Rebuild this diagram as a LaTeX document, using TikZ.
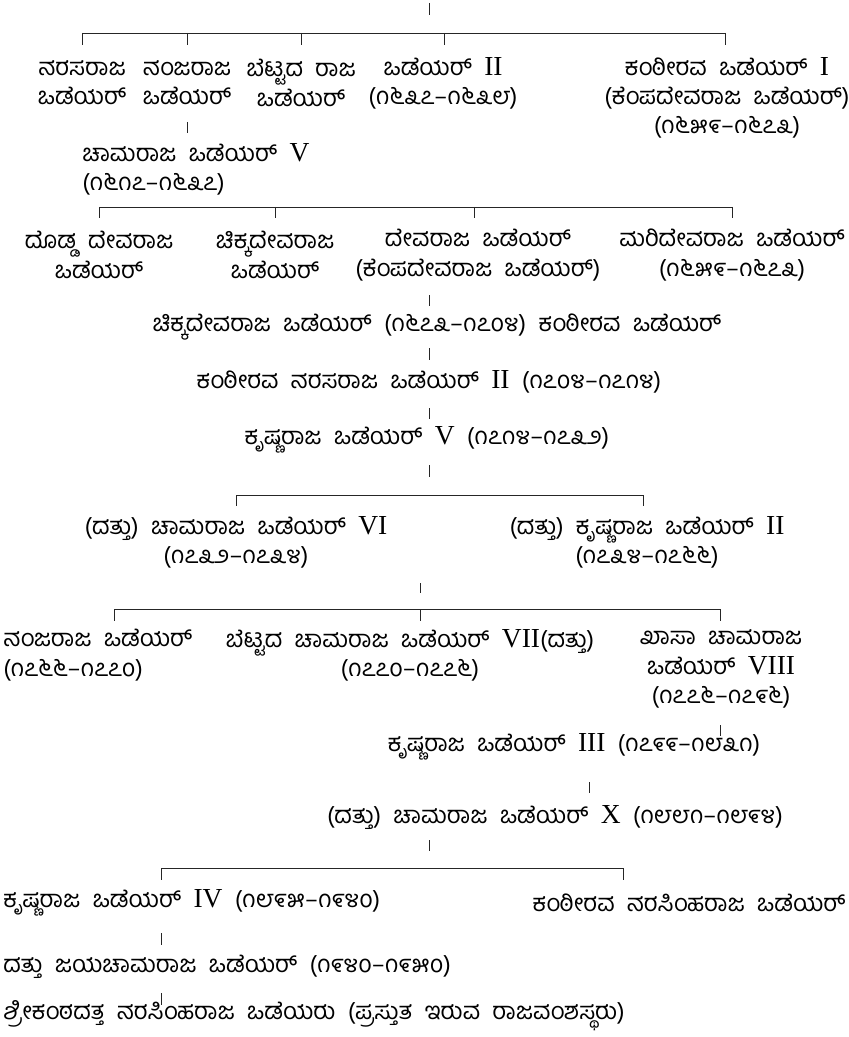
\documentclass[tikz,border=0pt]{standalone}
\usepackage{fontspec}
\setmainfont{Liberation Serif}[Scale=1.15]
\newfontfamily\kn[Script=Kannada,WordSpace=2.1]{Hind Mysuru}
\newcommand{\rn}[1]{{\rmfamily #1}}

\tikzset{
  kname/.style={font=\fontsize{17}{20.8}\selectfont\kn, align=center, inner sep=0pt},
  rule/.style={line width=0.6pt, black!85}
}

\begin{document}
\begin{tikzpicture}[x=0.025cm,y=-0.025cm]
\useasboundingbox (0,0) rectangle (848,1037);

% first generation
\node[kname] (narasa) at (82,83) {ನರಸರಾಜ\\ಒಡೆಯರ್};
\node[kname] (nanja1) at (187,83) {ನಂಜರಾಜ\\ಒಡೆಯರ್};
\node[kname] (bettada1) at (301,83) {ಬೆಟ್ಟದ ರಾಜ\\ಒಡೆಯರ್};
\node[kname] (raja2) at (443,83) {ಒಡೆಯರ್ \rn{II}\\(೧೬೩೭–೧೬೩೮)};
\node[kname] (kanth1) at (727,98) {ಕಂಠೀರವ ಒಡೆಯರ್ \rn{I}\\(ಕೆಂಪದೇವರಾಜ ಒಡೆಯರ್)\\(೧೬೫೯–೧೬೭೩)};
\node[kname, anchor=west, align=left] (chama5) at (82,169) {ಚಾಮರಾಜ ಒಡೆಯರ್ \rn{V}\\(೧೬೧೭–೧೬೩೭)};

% second generation
\node[kname] (dodda) at (99,255) {ದೊಡ್ಡ ದೇವರಾಜ\\ಒಡೆಯರ್};
\node[kname] (chikka1) at (275,255) {ಚಿಕ್ಕದೇವರಾಜ\\ಒಡೆಯರ್};
\node[kname] (deva) at (478,255) {ದೇವರಾಜ ಒಡೆಯರ್\\(ಕೆಂಪದೇವರಾಜ ಒಡೆಯರ್)};
\node[kname] (mari) at (732,255) {ಮರಿದೇವರಾಜ ಒಡೆಯರ್\\(೧೬೫೯–೧೬೭೩)};

\node[kname] (chikka2) at (437,327) {ಚಿಕ್ಕದೇವರಾಜ ಒಡೆಯರ್ (೧೬೭೩–೧೭೦೪) ಕಂಠೀರವ ಒಡೆಯರ್};
\node[kname] (kanth2) at (429,382) {ಕಂಠೀರವ ನರಸರಾಜ ಒಡೆಯರ್ \rn{II} (೧೭೦೪–೧೭೧೪)};
\node[kname] (krishna5) at (427,440) {ಕೃಷ್ಣರಾಜ ಒಡೆಯರ್ \rn{V} (೧೭೧೪–೧೭೩೨)};

\node[kname] (chama6) at (236,542) {(ದತ್ತು) ಚಾಮರಾಜ ಒಡೆಯರ್ \rn{VI}\\(೧೭೩೨–೧೭೩೪)};
\node[kname] (krishna2) at (647,542) {(ದತ್ತು) ಕೃಷ್ಣರಾಜ ಒಡೆಯರ್ \rn{II}\\(೧೭೩೪–೧೭೬೬)};

\node[kname, anchor=west, align=left] (nanja2) at (3,655) {ನಂಜರಾಜ ಒಡೆಯರ್\\(೧೭೬೬–೧೭೭೦)};
\node[kname] (bettada2) at (410,655) {ಬೆಟ್ಟದ ಚಾಮರಾಜ ಒಡೆಯರ್ \rn{VII}(ದತ್ತು)\\(೧೭೭೦–೧೭೭೬)};
\node[kname] (khasa) at (721,669) {ಖಾಸಾ ಚಾಮರಾಜ\\ಒಡೆಯರ್ \rn{VIII}\\(೧೭೭೬–೧೭೯೬)};

\node[kname] (krishna3) at (574,747) {ಕೃಷ್ಣರಾಜ ಒಡೆಯರ್ \rn{III} (೧೭೯೯–೧೮೩೧)};
\node[kname] (chama10) at (555,818) {(ದತ್ತು) ಚಾಮರಾಜ ಒಡೆಯರ್ \rn{X} (೧೮೮೧–೧೮೯೪)};

\node[kname, anchor=west] (krishna4) at (3,903) {ಕೃಷ್ಣರಾಜ ಒಡೆಯರ್ \rn{IV} (೧೮೯೫–೧೯೪೦)};
\node[kname, anchor=east] (kanth3) at (846,903) {ಕಂಠೀರವ ನರಸಿಂಹರಾಜ ಒಡೆಯರ್};
\node[kname, anchor=west] (jaya) at (3,967) {ದತ್ತು ಜಯಚಾಮರಾಜ ಒಡೆಯರ್ (೧೯೪೦–೧೯೫೦)};
\node[kname, anchor=west] (srikanta) at (3,1016) {ಶ್ರೀಕಂಠದತ್ತ ನರಸಿಂಹರಾಜ ಒಡೆಯರು (ಪ್ರಸ್ತುತ ಇರುವ ರಾಜವಂಶಸ್ಥರು)};

% single descent ticks
\foreach \x/\ya/\yb [count=\i] in {429/3/15, 187/122/133, 429/295/306, 429/348/360,
    429/408/419, 429/465/477, 420/583/593, 720/725/736, 589/782/793,
    429/840/851, 161/933/945, 161/993/1005}{
  \coordinate (ta\i) at (\x,\ya);
  \coordinate (tb\i) at (\x,\yb);
  \draw[rule] (ta\i) -- (tb\i);
}

% sibling bars
\coordinate (b1l) at (82,33);  \coordinate (b1r) at (725,33);
\coordinate (b2l) at (99,207); \coordinate (b2r) at (732,207);
\coordinate (b3l) at (236,495); \coordinate (b3r) at (643,495);
\coordinate (b4l) at (114,609); \coordinate (b4r) at (720,609);
\coordinate (b5l) at (161,868); \coordinate (b5r) at (623,868);
\draw[rule] (b1l) -- (b1r);
\draw[rule] (b2l) -- (b2r);
\draw[rule] (b3l) -- (b3r);
\draw[rule] (b4l) -- (b4r);
\draw[rule] (b5l) -- (b5r);
\foreach \x in {82,187,301,444,725} \draw[rule] (\x,33) -- (\x,45);
\foreach \x in {99,275,474,732} \draw[rule] (\x,207) -- (\x,218);
\foreach \x in {236,643} \draw[rule] (\x,495) -- (\x,506);
\foreach \x in {114,420,720} \draw[rule] (\x,609) -- (\x,621);
\foreach \x in {161,623} \draw[rule] (\x,868) -- (\x,880);
\end{tikzpicture}
\end{document}
